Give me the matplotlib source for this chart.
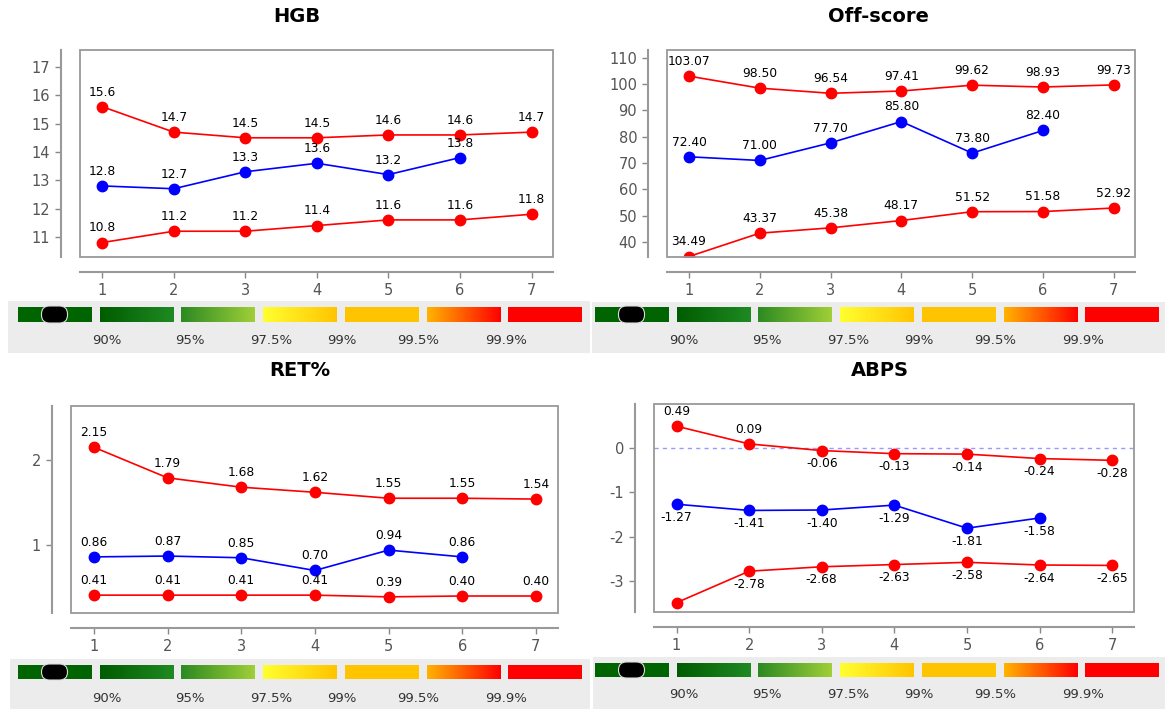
"""四个指标的参考范围折线图 + 百分位色条"""
import numpy as np
import matplotlib.pyplot as plt
from matplotlib.patches import Rectangle, FancyBboxPatch
from matplotlib.colors import LinearSegmentedColormap

plt.rcParams['axes.unicode_minus'] = False

# 数据
x_pts = [1, 2, 3, 4, 5, 6, 7]

hgb_upper = [15.6, 14.7, 14.5, 14.5, 14.6, 14.6, 14.7]
hgb_patient = [12.8, 12.7, 13.3, 13.6, 13.2, 13.8]
hgb_lower = [10.8, 11.2, 11.2, 11.4, 11.6, 11.6, 11.8]

off_upper = [103.07, 98.50, 96.54, 97.41, 99.62, 98.93, 99.73]
off_patient = [72.40, 71.00, 77.70, 85.80, 73.80, 82.40]
off_lower = [34.49, 43.37, 45.38, 48.17, 51.52, 51.58, 52.92]

ret_upper = [2.15, 1.79, 1.68, 1.62, 1.55, 1.55, 1.54]
ret_patient = [0.86, 0.87, 0.85, 0.70, 0.94, 0.86]
ret_lower = [0.41, 0.41, 0.41, 0.41, 0.39, 0.40, 0.40]

abps_upper = [0.49, 0.09, -0.06, -0.13, -0.14, -0.24, -0.28]
abps_patient = [-1.27, -1.41, -1.40, -1.29, -1.81, -1.58]
abps_lower = [-3.49, -2.78, -2.68, -2.63, -2.58, -2.64, -2.65]

pct_labels = ['90%', '95%', '97.5%', '99%', '99.5%', '99.9%']
# 色条: (起始色, 结束色)
block_colors = [('#006400', '#006400'), ('#005c00', '#1f8a22'), ('#2b8a22', '#a0cf38'),
                ('#ffff30', '#ffc400'), ('#ffc400', '#ffc400'), ('#ffb400', '#ff0000'),
                ('#ff0000', '#ff0000')]

W, H = 1169, 709
fig = plt.figure(figsize=(W / 100, H / 100), dpi=100)


def px(x0, y0, x1, y1):
    return [x0 / W, 1 - y1 / H, (x1 - x0) / W, (y1 - y0) / H]


# 背景层: 色条
bg = fig.add_axes([0, 0, 1, 1])
bg.patch.set_visible(False)
bg.axis('off')
grad = np.linspace(0, 1, 256)[None, :]
strips = [(8, 590, 301, 353, 18, 307, 322, 341),
          (592, 1165, 302, 353, 595, 307, 322, 341),
          (10, 590, 659, 709, 18, 665, 679, 698),
          (593, 1165, 657, 709, 595, 663, 677, 695)]
bw, step = 73.5, 81.7
for gx0, gx1, gy0, gy1, bx, by0, by1, ly in strips:
    bg.add_patch(Rectangle((gx0, gy0), gx1 - gx0, gy1 - gy0, fc='#ececec', ec='none'))
    for i, (c0, c1) in enumerate(block_colors):
        x0 = bx + i * step
        cm = LinearSegmentedColormap.from_list('b%d' % i, [c0, c1])
        bg.imshow(grad, cmap=cm, extent=(x0, x0 + bw, by1, by0), aspect='auto',
                  interpolation='bilinear', zorder=2)
    bg.add_patch(FancyBboxPatch((bx + 23.5, by0 - 1), 26, (by1 - by0) + 2,
                                boxstyle='round,pad=0,rounding_size=8',
                                fc='black', ec='#dddddd', lw=0.8, zorder=3))
    for off, lab in zip([89, 172, 253, 324, 400, 488], pct_labels):
        bg.text(bx + off, ly, lab, ha='center', va='center', fontsize=9.5, color='#333333')
bg.set_xlim(0, W)
bg.set_ylim(H, 0)


def draw_panel(rect, title, tpos, upper, patient, lower, ylim, yticks, fmt, zero=False):
    ax = fig.add_axes(px(*rect))
    ax.set_xlim(0.69, 7.3)
    ax.set_ylim(*ylim)
    ax.set_xticks(x_pts)
    ax.set_yticks(yticks)
    for s in ['top', 'right']:
        ax.spines[s].set_visible(False)
    ax.spines['left'].set_position(('outward', 13.5))
    ax.spines['bottom'].set_position(('outward', 11))
    for s in ['left', 'bottom']:
        ax.spines[s].set_color('#999999')
        ax.spines[s].set_linewidth(1.5)
    ax.add_patch(Rectangle((0, 0), 1, 1, transform=ax.transAxes, fill=False,
                           ec='#999999', lw=1.3, clip_on=False, zorder=5))
    ax.tick_params(direction='out', length=4, width=1, color='#888888',
                   labelcolor='#555555', labelsize=10.5, pad=4)
    if zero:
        ax.axhline(0, color='#9999ff', lw=1, ls=(0, (3, 3)))
    box_bottom = ax.transAxes.transform((0, 0))[1]
    for ys, col in [(upper, 'red'), (patient, 'blue'), (lower, 'red')]:
        xs = x_pts[:len(ys)]
        ax.plot(xs, ys, color=col, lw=1.2, marker='o', ms=7.5, mec=col)
        for xi, v in zip(xs, ys):
            dy = 10.5 if v >= 0 else -9.5
            # 标签落到框外时不画
            if ax.transData.transform((xi, v))[1] + dy * 100 / 72 - 4 < box_bottom:
                continue
            ax.annotate(fmt.format(v), (xi, v), xytext=(0, dy), textcoords='offset points',
                        ha='center', va='center', fontsize=8.8, color='black', clip_on=True)
    fig.text(tpos[0] / W, 1 - tpos[1] / H, title, ha='center', va='center',
             fontsize=14, fontweight='bold')
    return ax


draw_panel((80, 50, 553, 257), 'HGB', (297, 16), hgb_upper, hgb_patient, hgb_lower,
           (10.29, 17.6), range(11, 18), '{:.1f}')
draw_panel((667, 50, 1135, 257), 'Off-score', (878, 16), off_upper, off_patient, off_lower,
           (34.3, 113.0), range(40, 111, 10), '{:.2f}')
draw_panel((71, 406, 558, 613), 'RET%', (300, 370), ret_upper, ret_patient, ret_lower,
           (0.2, 2.635), [1, 2], '{:.2f}')
draw_panel((654, 404, 1134, 612), 'ABPS', (880, 370), abps_upper, abps_patient, abps_lower,
           (-3.70, 0.99), [-3, -2, -1, 0], '{:.2f}', zero=True)

plt.savefig('out.png', dpi=100)
